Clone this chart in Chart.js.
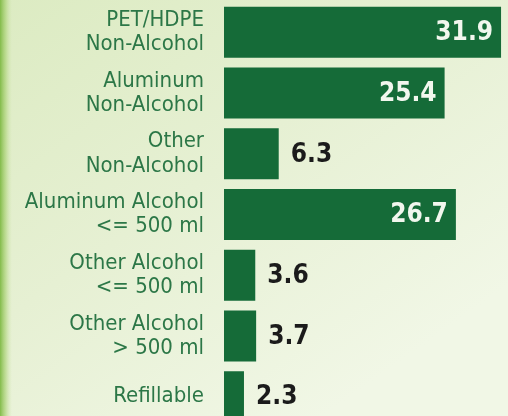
<!DOCTYPE html>
<html>
<head>
<meta charset="utf-8">
<script src="https://cdn.jsdelivr.net/npm/chart.js@4/dist/chart.umd.min.js"></script>
<style>
  html, body { margin: 0; padding: 0; width: 508px; height: 416px; overflow: hidden; background: #e4efd0; }
  #wrap { position: absolute; left: 0; top: 0; width: 508px; height: 430px; }
</style>
</head>
<body>
<div id="wrap"><canvas id="c"></canvas></div>
<script>
const categories = [
  ["PET/HDPE", "Non-Alcohol"],
  ["Aluminum", "Non-Alcohol"],
  ["Other", "Non-Alcohol"],
  ["Aluminum Alcohol", "<= 500 ml"],
  ["Other Alcohol", "<= 500 ml"],
  ["Other Alcohol", "> 500 ml"],
  "Refillable"
];
const values = [31.9, 25.4, 6.3, 26.7, 3.6, 3.7, 2.3];
const insideThreshold = 20;

const LABEL_FONT = '"DejaVu Sans Condensed", "Liberation Sans Narrow", sans-serif';

const bgPlugin = {
  id: 'bg',
  beforeDraw(chart) {
    const ctx = chart.ctx, w = chart.width, h = chart.height;
    ctx.save();
    const g = ctx.createLinearGradient(0, 0, w * 0.6, h);
    g.addColorStop(0, '#dcebc2');
    g.addColorStop(0.5, '#e6f0d3');
    g.addColorStop(1, '#f1f7e6');
    ctx.fillStyle = g;
    ctx.fillRect(0, 0, w, h);
    const s = ctx.createLinearGradient(0, 0, 12, 0);
    s.addColorStop(0, 'rgba(125,184,67,0.95)');
    s.addColorStop(0.5, 'rgba(160,205,100,0.5)');
    s.addColorStop(1, 'rgba(200,225,160,0)');
    ctx.fillStyle = s;
    ctx.fillRect(0, 0, 12, h);
    ctx.restore();
  }
};

const valuePlugin = {
  id: 'vals',
  afterDatasetsDraw(chart) {
    const ctx = chart.ctx;
    const meta = chart.getDatasetMeta(0);
    ctx.save();
    ctx.font = 'bold 26px ' + LABEL_FONT;
    ctx.textBaseline = 'middle';
    meta.data.forEach((bar, i) => {
      const v = values[i];
      const txt = v.toFixed(1);
      if (v > insideThreshold) {
        ctx.fillStyle = '#f2f7ee';
        ctx.textAlign = 'right';
        ctx.fillText(txt, bar.x - 8, bar.y + 1);
      } else {
        ctx.fillStyle = '#1b1b1b';
        ctx.textAlign = 'left';
        ctx.fillText(txt, bar.x + 12, bar.y + 1);
      }
    });
    ctx.restore();
  }
};

new Chart(document.getElementById('c'), {
  type: 'bar',
  data: {
    labels: categories,
    datasets: [{
      data: values,
      backgroundColor: '#156b38',
      borderWidth: 0,
      categoryPercentage: 1.0,
      barPercentage: 0.84
    }]
  },
  options: {
    indexAxis: 'y',
    responsive: true,
    maintainAspectRatio: false,
    animation: false,
    layout: { padding: { top: 2, bottom: 3, left: 0, right: 0 } },
    plugins: { legend: { display: false }, tooltip: { enabled: false } },
    scales: {
      x: { display: false, min: 0, max: 32.7 },
      y: {
        grid: { display: false, drawTicks: false },
        border: { display: false },
        ticks: {
          color: '#2c7747',
          padding: 20,
          font: { family: LABEL_FONT, size: 22, lineHeight: 1.1 }
        },
        afterFit(scale) {
          scale.width = 224;
          scale.paddingTop = 0;
          scale.paddingBottom = 0;
        }
      }
    }
  },
  plugins: [bgPlugin, valuePlugin]
});
</script>
</body>
</html>
